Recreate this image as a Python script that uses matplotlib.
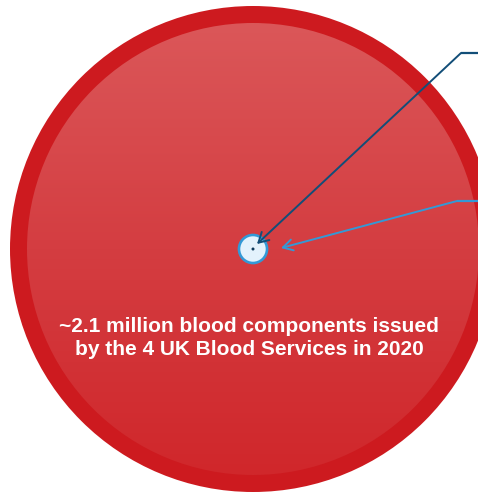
import numpy as np
import matplotlib
matplotlib.use("Agg")
import matplotlib.pyplot as plt
from matplotlib.patches import Circle
from matplotlib.colors import LinearSegmentedColormap

# Data (areas proportional to counts)
labels = ["Blood components issued (2020)", "Reported incidents", "Deaths"]
values = [2100000, 7000, 80]
caption = "~2.1 million blood components issued\nby the 4 UK Blood Services in 2020"

W, H = 478, 497
fig = plt.figure(figsize=(W / 100, H / 100), dpi=100)
ax = fig.add_axes([0, 0, 1, 1])
ax.set_xlim(0, W)
ax.set_ylim(H, 0)
ax.set_aspect("equal")
ax.axis("off")

cx, cy = 253, 249
R_big = 243
scale = R_big / np.sqrt(values[0])
radii = [scale * np.sqrt(v) for v in values]

# outer ring
ax.add_patch(Circle((cx, cy), radii[0], facecolor="#CD1A1F", edgecolor="none", zorder=1))
# inner gradient disc
R_in = radii[0] - 17
disc = Circle((cx, cy), R_in, facecolor="none", edgecolor="none", zorder=2)
ax.add_patch(disc)
cmap = LinearSegmentedColormap.from_list("g", ["#DB5759", "#D43D41", "#D0272B"])
grad = np.linspace(0, 1, 256).reshape(-1, 1)
im = ax.imshow(grad, cmap=cmap, extent=(cx - R_in, cx + R_in, cy + R_in, cy - R_in),
               aspect="auto", zorder=2, interpolation="bilinear")
im.set_clip_path(disc)

# small circle
ax.add_patch(Circle((cx, cy), radii[1], facecolor="#E3F2FC", edgecolor="#3399D6", lw=1.9, zorder=4))
# tiny dot
ax.add_patch(Circle((cx, cy), max(radii[2], 1.3), facecolor="#0E3A5C", edgecolor="none", zorder=5))

# arrows
ax.plot([461, 480], [53, 53], color="#124E78", lw=1.6, zorder=6, solid_capstyle="butt")
ax.annotate("", xy=(cx + 4, cy - 5), xytext=(461, 53),
            arrowprops=dict(arrowstyle="->,head_length=0.7,head_width=0.4", color="#124E78", lw=1.4,
                            shrinkA=0, shrinkB=0), zorder=6)
ax.plot([457, 480], [201, 201], color="#3399D6", lw=1.6, zorder=6, solid_capstyle="butt")
ax.annotate("", xy=(cx + 28, cy - 1), xytext=(457, 201),
            arrowprops=dict(arrowstyle="->,head_length=0.7,head_width=0.4", color="#3399D6", lw=1.4,
                            shrinkA=0, shrinkB=0), zorder=6)

ax.text(249, 338, caption, ha="center", va="center", color="white", fontsize=15.0,
        fontweight="bold", family="Liberation Sans", linespacing=1.3, zorder=7)

fig.savefig("out.png", dpi=100)
